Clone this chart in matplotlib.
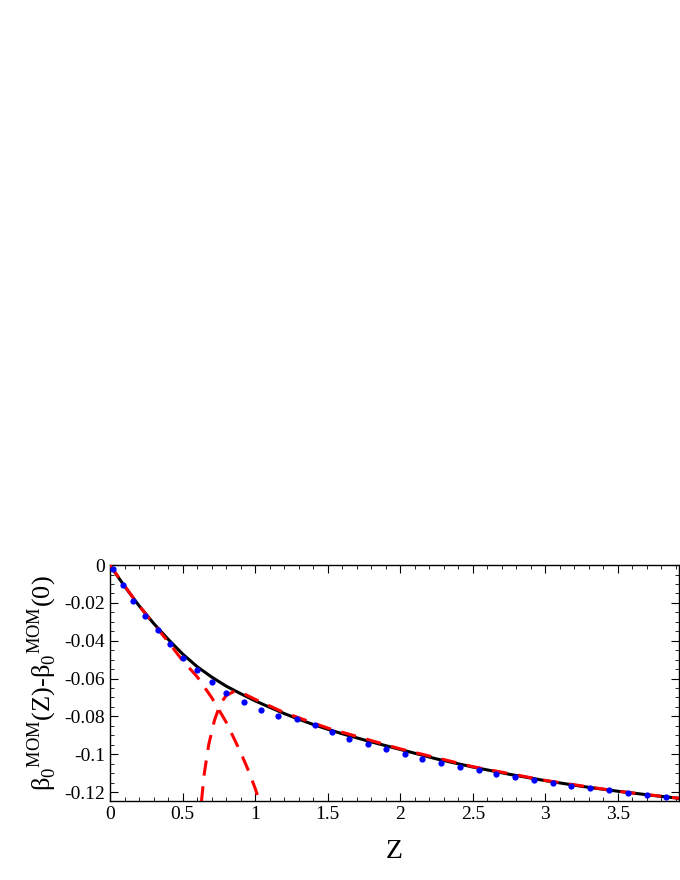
import matplotlib
matplotlib.use("Agg")
import matplotlib.pyplot as plt
from matplotlib.ticker import MultipleLocator, FuncFormatter

# exact curve (black)
z_exact = [0, 0.05, 0.1, 0.2, 0.3, 0.4, 0.5, 0.6, 0.7, 0.8, 0.9, 1.0, 1.1, 1.2, 1.3, 1.4, 1.5, 1.6,
           1.8, 2.0, 2.25, 2.5, 2.75, 3.0, 3.25, 3.5, 3.75, 3.92]
b_exact = [0, -0.0057, -0.0112, -0.0215, -0.0308, -0.0392, -0.0470, -0.0537, -0.0592, -0.0640,
           -0.0680, -0.0718, -0.0752, -0.0785, -0.0815, -0.0843, -0.0868, -0.0892, -0.0935,
           -0.0975, -0.1025, -0.1068, -0.1106, -0.1140, -0.1170, -0.1196, -0.1219, -0.1233]
# small-Z expansion (red dashed)
z_small = [0, 0.1, 0.2, 0.3, 0.4, 0.5, 0.6, 0.7, 0.8, 0.9, 0.95, 1.0, 1.03]
b_small = [0, -0.011, -0.0215, -0.031, -0.0405, -0.0505, -0.059, -0.070, -0.083, -0.099,
           -0.108, -0.118, -0.125]
# large-Z expansion (red dashed)
z_large = [0.63, 0.65, 0.68, 0.72, 0.76, 0.8, 0.85, 0.9, 1.0, 1.2, 1.5, 2.0, 2.5, 3.0, 3.5, 3.92]
b_large = [-0.125, -0.110, -0.095, -0.082, -0.0735, -0.0690, -0.0670, -0.0672, -0.0710,
           -0.0780, -0.0862, -0.0972, -0.1066, -0.1139, -0.1196, -0.1233]
# numerical points (blue)
z_pts = [0.018, 0.087, 0.16, 0.24, 0.33, 0.41, 0.50, 0.60, 0.70, 0.80, 0.92, 1.04, 1.16, 1.29,
         1.41, 1.53, 1.65, 1.78, 1.90, 2.03, 2.15, 2.28, 2.41, 2.54, 2.66, 2.79, 2.92, 3.05,
         3.18, 3.31, 3.44, 3.57, 3.70, 3.83]
b_pts = [-0.0023, -0.0107, -0.0189, -0.0268, -0.0344, -0.042, -0.049, -0.0557, -0.062, -0.0677,
         -0.0726, -0.0767, -0.0796, -0.0812, -0.0848, -0.0883, -0.0918, -0.0948, -0.0974,
         -0.1001, -0.1026, -0.1047, -0.1068, -0.1085, -0.1105, -0.1122, -0.1138, -0.1152,
         -0.1166, -0.1179, -0.1191, -0.1204, -0.1216, -0.1226]

plt.rcParams["font.family"] = "Liberation Serif"
plt.rcParams["mathtext.fontset"] = "custom"
plt.rcParams["mathtext.rm"] = "Liberation Serif"

fig = plt.figure(figsize=(6.8, 8.8), dpi=100)
ax = fig.add_axes([0.1618, 0.0901, 0.8365, 0.2678])

ax.plot(z_exact, b_exact, color="black", lw=2.2, zorder=2)
ax.plot(z_small, b_small, color="#ff0000", lw=2.2, ls=(0, (5, 3.5)), zorder=3)
ax.plot(z_large, b_large, color="#ff0000", lw=2.2, ls=(0, (5, 3.5)), zorder=3)
ax.plot(z_pts, b_pts, "o", color="#0000ff", ms=4.5, mec="none", zorder=4)

ax.set_xlim(0, 3.92)
ax.set_ylim(-0.1246, 0)
ax.xaxis.set_major_locator(MultipleLocator(0.5))
ax.xaxis.set_minor_locator(MultipleLocator(0.1))
ax.yaxis.set_major_locator(MultipleLocator(0.02))
ax.yaxis.set_minor_locator(MultipleLocator(0.005))
fmt = FuncFormatter(lambda v, p: "0" if abs(v) < 1e-9 else ("%g" % round(v, 3)))
ax.xaxis.set_major_formatter(fmt)
ax.yaxis.set_major_formatter(fmt)
ax.tick_params(which="both", direction="in", top=True, right=True, labelsize=14)
ax.tick_params(which="major", length=6)
ax.tick_params(which="minor", length=3)
for s in ax.spines.values():
    s.set_linewidth(1.0)

ax.set_xlabel("Z", fontsize=20, labelpad=12)
ax.set_ylabel(r"β$_{\rm 0}$$^{\rm MOM}$(Z)-β$_{\rm 0}$$^{\rm MOM}$(0)", fontsize=19, labelpad=4)

fig.savefig("out.png", dpi=100)
